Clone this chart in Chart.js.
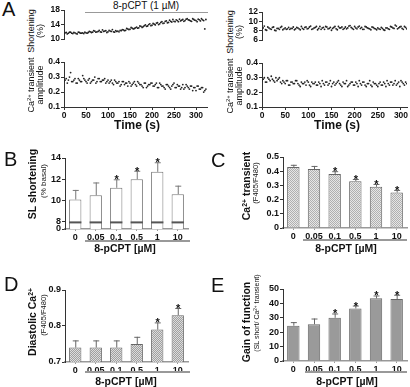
<!DOCTYPE html>
<html>
<head>
<meta charset="utf-8">
<script src="https://cdn.jsdelivr.net/npm/chart.js@4.4.1/dist/chart.umd.min.js"></script>
<style>
body { margin: 0; background: #fff; width: 410px; height: 387px; overflow: hidden; position: relative; font-family: "Liberation Sans", Arial, sans-serif; color: #111; }
canvas { position: absolute; }
.t { position: absolute; white-space: nowrap; line-height: 1; }
.letter { font-size: 20px; }
.rule { position: absolute; height: 1.5px; background: #999; }
sup { font-size: 65%; vertical-align: 0; position: relative; top: -0.45em; }
</style>
</head>
<body>
<script>
// Panel A traces: two interleaved samples, every 5 s, second one offset by 2.5 s
const timeStep = 5;
const shortLeft = [11.5, 11.8, 11.6, 11.9, 11.5, 11.7, 11.4, 11.8, 11.6, 11.5, 11.7,
    11.8, 12.0, 11.9, 12.2, 12.0, 12.4, 11.9, 12.1, 12.3, 12.0, 12.2, 12.6, 11.9, 12.1, 12.0,
    12.3, 12.5, 12.4, 12.8, 12.7, 13.0, 12.9, 13.3, 13.1, 13.5, 13.4, 13.9, 13.6, 14.2, 13.8,
    14.1, 14.4, 14.0, 14.6, 14.3, 14.9, 14.5, 15.2, 14.7, 14.9, 15.3, 14.8,
    15.0, 15.4, 15.1, 15.6, 15.2, 14.9, 15.4, 15.1, 15.5, 15.0, 15.3, 12.8];
const shortLeft2 = [11.7, 11.4, 11.9, 11.6, 11.8, 11.5, 11.9, 11.6, 11.7, 11.9, 11.6,
    12.1, 11.8, 12.3, 11.9, 12.1, 12.0, 12.5, 12.2, 11.8, 12.4, 12.1, 12.0, 12.3, 12.2, 12.4,
    12.6, 12.3, 12.9, 12.6, 13.2, 12.8, 13.1, 13.0, 13.6, 13.2, 13.7, 13.5, 14.0, 13.7, 14.3,
    13.9, 14.5, 14.2, 14.8, 14.4, 15.0, 14.6, 14.9, 15.4, 14.8, 15.1, 15.5,
    15.2, 14.9, 15.5, 15.3, 15.0, 15.6, 15.2, 14.8, 15.3, 15.6, 15.1, 15.4];
const caLeft = [0.27, 0.29, 0.28, 0.33, 0.27, 0.29, 0.26, 0.28, 0.27, 0.29, 0.27, 0.28, 0.26, 0.28, 0.30, 0.27, 0.29, 0.27, 0.28, 0.26, 0.28,
    0.27, 0.26, 0.28, 0.26, 0.27, 0.25, 0.27, 0.26, 0.24, 0.26, 0.25, 0.27, 0.24, 0.26, 0.25, 0.23, 0.26, 0.24, 0.25, 0.26,
    0.24, 0.26, 0.23, 0.25, 0.24, 0.22, 0.25, 0.23, 0.24, 0.26, 0.23, 0.24, 0.22, 0.25, 0.23, 0.24, 0.22, 0.24, 0.23, 0.21, 0.24, 0.22, 0.23, 0.21];
const caLeft2 = [0.28, 0.26, 0.30, 0.27, 0.28, 0.26, 0.29, 0.27, 0.31, 0.28, 0.26, 0.29, 0.27, 0.28, 0.26, 0.29, 0.27, 0.28, 0.29, 0.27, 0.26,
    0.28, 0.25, 0.27, 0.26, 0.24, 0.27, 0.25, 0.26, 0.27, 0.24, 0.26, 0.25, 0.27, 0.25, 0.24, 0.26, 0.23, 0.25, 0.26, 0.24,
    0.25, 0.23, 0.26, 0.24, 0.23, 0.25, 0.24, 0.22, 0.25, 0.23, 0.25, 0.24, 0.23, 0.22, 0.25, 0.23, 0.24, 0.21, 0.23, 0.24, 0.22, 0.23, 0.20, 0.22];
const shortRight = [8.4, 9.0, 8.1, 8.6, 8.3, 8.8, 8.0, 8.5, 8.7, 8.2,
    8.6, 8.4, 8.3, 8.5, 8.2, 8.7, 8.4, 8.9, 8.3, 8.8,
    8.5, 9.0, 8.4, 8.7, 8.2, 8.9, 8.6, 8.3, 8.8, 8.5,
    8.1, 8.7, 8.4, 8.9, 8.6, 8.3, 8.8, 8.6, 9.1, 8.5,
    8.9, 8.4, 9.0, 8.7, 8.3, 8.8, 8.5, 8.2, 8.7, 8.4,
    8.6, 8.3, 8.5, 8.1, 8.6, 8.3, 8.8, 8.5, 9.0, 8.6,
    8.9, 8.3, 8.7];
const shortRight2 = [8.6, 8.2, 8.8, 8.4, 8.7, 8.1, 8.5, 8.3, 8.9, 8.4,
    8.3, 8.7, 8.5, 8.8, 8.4, 8.6, 8.2, 8.5, 8.7, 8.4,
    8.8, 8.3, 8.6, 8.9, 8.5, 8.3, 8.7, 8.9, 8.4, 8.7,
    8.5, 8.9, 8.2, 8.6, 8.8, 8.5, 8.4, 9.0, 8.7, 8.3,
    8.6, 8.8, 8.5, 8.3, 8.9, 8.6, 8.4, 8.8, 8.5, 8.2,
    8.4, 8.7, 8.2, 8.6, 8.4, 8.9, 8.6, 9.2, 8.4, 8.8,
    8.5, 8.9, 8.4];
const caRight = [0.28, 0.30, 0.27, 0.29, 0.31, 0.28, 0.30, 0.29, 0.27, 0.28,
    0.26, 0.28, 0.25, 0.27, 0.26, 0.28, 0.25, 0.27, 0.26, 0.25,
    0.27, 0.24, 0.26, 0.27, 0.25, 0.26, 0.28, 0.25, 0.27, 0.26,
    0.24, 0.27, 0.26, 0.28, 0.25, 0.27, 0.26, 0.24, 0.26, 0.27,
    0.25, 0.26, 0.28, 0.25, 0.27, 0.24, 0.26, 0.25, 0.27, 0.26,
    0.24, 0.27, 0.25, 0.26, 0.28, 0.25, 0.27, 0.26, 0.25, 0.27,
    0.28, 0.26, 0.27];
const caRight2 = [0.29, 0.27, 0.30, 0.28, 0.29, 0.27, 0.28, 0.30, 0.26, 0.27,
    0.28, 0.25, 0.27, 0.26, 0.28, 0.26, 0.24, 0.26, 0.27, 0.28,
    0.25, 0.27, 0.26, 0.25, 0.27, 0.24, 0.26, 0.27, 0.25, 0.28,
    0.26, 0.25, 0.27, 0.26, 0.24, 0.26, 0.28, 0.25, 0.27, 0.25,
    0.27, 0.24, 0.26, 0.27, 0.25, 0.26, 0.28, 0.24, 0.26, 0.25,
    0.26, 0.25, 0.27, 0.24, 0.26, 0.27, 0.25, 0.28, 0.26, 0.24,
    0.27, 0.25, 0.26];

const timeTicks = [0, 50, 100, 150, 200, 250, 300];
const shortLeftTicks = [10, 14, 18];
const shortRightTicks = [6, 8, 10, 12];
const caTicks = [0.1, 0.2, 0.3, 0.4];

// Panels B-E: dose response
const doses = ['0', '0.05', '0.1', '0.5', '1', '10'];
const slShort = [10.1, 10.5, 11.2, 12.0, 12.7, 10.6];
const slShortSem = [0.9, 1.2, 0.8, 0.8, 0.9, 0.8];
const slShortSig = [false, false, true, true, true, false];
const caTrans = [0.43, 0.415, 0.38, 0.33, 0.29, 0.25];
const caTransSem = [0.015, 0.022, 0.02, 0.015, 0.02, 0.018];
const caTransSig = [false, false, true, true, true, true];
const diaCa = [0.74, 0.74, 0.74, 0.75, 0.79, 0.83];
const diaCaSem = [0.02, 0.02, 0.02, 0.02, 0.02, 0.02];
const diaCaSig = [false, false, false, false, true, true];
const gain = [24.5, 25.5, 30, 36.5, 43.5, 43];
const gainSem = [2.5, 4, 3, 2, 2, 3];
const gainSig = [false, false, true, true, true, true];

const bTicks = [7.33, 8, 10, 12, 14];
const cTicks = [0, 0.1, 0.2, 0.3, 0.4, 0.5];
const dTicks = [0.7, 0.8, 0.9];
const eTicks = [0, 10, 20, 30, 40, 50];

const FONT = '"Liberation Sans", Arial, sans-serif';
Chart.defaults.font.family = FONT;
Chart.defaults.color = '#111';
Chart.defaults.animation = false;

function addText(html, x, y, css, rotate) {
    const d = document.createElement('div');
    d.className = 't';
    d.innerHTML = html;
    d.style.cssText += css;
    d.style.left = x + 'px';
    d.style.top = y + 'px';
    d.style.transform = 'translate(-50%,-50%)' + (rotate ? ' rotate(-90deg)' : '');
    document.body.appendChild(d);
}
function addRule(x1, x2, y) {
    const d = document.createElement('div');
    d.className = 'rule';
    d.style.left = x1 + 'px';
    d.style.width = (x2 - x1) + 'px';
    d.style.top = y + 'px';
    document.body.appendChild(d);
}
function addLetter(ch, x, y) {
    const d = document.createElement('div');
    d.className = 't letter';
    d.textContent = ch;
    d.style.left = x + 'px';
    d.style.top = y + 'px';
    document.body.appendChild(d);
}

// canvas so that the plot area lands on l,t,r,b
function makeCanvas(l, t, r, b, yw, padT, padR, xh) {
    const c = document.createElement('canvas');
    const w = r - l + yw + padR, h = b - t + padT + xh;
    c.width = w; c.height = h;
    c.style.left = (l - yw) + 'px';
    c.style.top = (t - padT) + 'px';
    c.style.width = w + 'px'; c.style.height = h + 'px';
    document.body.appendChild(c);
    return c;
}

function scatterChart(values, values2, box, yMin, yMax, yTicks, xMax, showX) {
    const c = makeCanvas(box[0], box[1], box[2], box[3], 22, 6, 3, showX ? 13 : 2);
    const pts = values.map((v, i) => ({ x: i * timeStep, y: v }));
    const pts2 = values2.map((v, i) => ({ x: i * timeStep + timeStep / 2, y: v }));
    const dot = { pointRadius: 0.9, pointBackgroundColor: '#222', pointBorderWidth: 0 };
    new Chart(c, {
        type: 'scatter',
        data: { datasets: [Object.assign({ data: pts }, dot), Object.assign({ data: pts2 }, dot)] },
        options: {
            responsive: false,
            events: [],
            layout: { padding: { top: 6, right: 3, bottom: showX ? 0 : 2 } },
            plugins: { legend: { display: false }, tooltip: { enabled: false } },
            scales: {
                x: {
                    type: 'linear', min: 0, max: xMax, display: showX,
                    afterBuildTicks: s => { s.ticks = timeTicks.map(v => ({ value: v })); },
                    afterFit: s => { s.height = 13; },
                    ticks: { autoSkip: false, maxRotation: 0, padding: 1, font: { size: 8.5, weight: 'bold' } },
                    grid: { drawOnChartArea: false, tickLength: 3, color: '#333' },
                    border: { color: '#333' }
                },
                y: {
                    min: yMin, max: yMax,
                    afterBuildTicks: s => { s.ticks = yTicks.map(v => ({ value: v })); },
                    afterFit: s => { s.width = 22; },
                    ticks: { autoSkip: false, padding: 1, font: { size: 8.5, weight: 'bold' } },
                    grid: { drawOnChartArea: false, tickLength: 3, color: '#333' },
                    border: { color: '#333' }
                }
            }
        }
    });
}

function hatch(light, dark) {
    const p = document.createElement('canvas');
    p.width = 2; p.height = 2;
    const g = p.getContext('2d');
    g.fillStyle = light; g.fillRect(0, 0, 2, 2);
    g.fillStyle = dark; g.fillRect(0, 0, 1, 1); g.fillRect(1, 1, 1, 1);
    return g.createPattern(p, 'repeat');
}

const barDecor = {
    id: 'barDecor',
    afterDatasetsDraw(chart) {
        const ds = chart.data.datasets[0];
        const meta = chart.getDatasetMeta(0);
        const ys = chart.scales.y;
        const ctx = chart.ctx;
        ctx.save();
        meta.data.forEach((bar, i) => {
            if (ds.breakAt !== undefined) {
                const yb = ys.getPixelForValue(ds.breakAt);
                ctx.fillStyle = '#555';
                ctx.fillRect(bar.x - bar.width / 2, yb - 1, bar.width, 2);
            }
            const yTop = ys.getPixelForValue(ds.means[i] + ds.sem[i]);
            ctx.strokeStyle = ds.borderColor;
            ctx.lineWidth = 1;
            ctx.beginPath();
            ctx.moveTo(bar.x + 0.5, bar.y);
            ctx.lineTo(bar.x + 0.5, yTop);
            ctx.moveTo(bar.x - 2.5, yTop + 0.5);
            ctx.lineTo(bar.x + 3.5, yTop + 0.5);
            ctx.stroke();
            if (ds.sig[i]) {
                ctx.fillStyle = '#111';
                ctx.font = 'bold 11px ' + FONT;
                ctx.textAlign = 'center';
                ctx.textBaseline = 'alphabetic';
                ctx.fillText('*', bar.x + 0.5, yTop + 4);
            }
        });
        ctx.restore();
    }
};

function barChart(box, means, sem, sig, yMin, yMax, tickVals, fill, stroke, labelFn, breakAt) {
    const c = makeCanvas(box[0], box[1], box[2], box[3], 22, 12, 2, 13);
    new Chart(c, {
        type: 'bar',
        data: {
            labels: doses,
            datasets: [{
                data: means, means: means, sem: sem, sig: sig, breakAt: breakAt,
                backgroundColor: fill, borderColor: stroke, borderWidth: 1,
                barPercentage: 0.6, categoryPercentage: 1
            }]
        },
        options: {
            responsive: false,
            events: [],
            layout: { padding: { top: 12, right: 2 } },
            plugins: { legend: { display: false }, tooltip: { enabled: false } },
            scales: {
                x: {
                    afterFit: s => { s.height = 13; },
                    ticks: { autoSkip: false, maxRotation: 0, padding: 1, font: { size: 9, weight: 'bold' } },
                    grid: { drawOnChartArea: false, offset: false, tickLength: 2, color: '#999' },
                    border: { color: '#999', width: 1.5 }
                },
                y: {
                    min: yMin, max: yMax,
                    afterBuildTicks: s => { s.ticks = tickVals.map(v => ({ value: v })); },
                    afterFit: s => { s.width = 22; },
                    ticks: { autoSkip: false, padding: 1, font: { size: 9, weight: 'bold' }, callback: labelFn },
                    grid: { drawOnChartArea: false, tickLength: 3, color: '#333' },
                    border: { color: '#333' }
                }
            }
        },
        plugins: [barDecor]
    });
}

// ---- Panel A ----
addLetter('A', 2, -1);
addText('8-pCPT (1 µM)', 146, 6, 'font-size:10px;');
addRule(85, 208, 11.5);
scatterChart(shortLeft, shortLeft2, [64, 10, 208, 52], 10, 18, shortLeftTicks, 325, false);
scatterChart(caLeft, caLeft2, [64, 62, 208, 107], 0.1, 0.4, caTicks, 325, true);
scatterChart(shortRight, shortRight2, [262, 12, 408, 53], 6, 12, shortRightTicks, 313, false);
scatterChart(caRight, caRight2, [262, 63, 408, 107], 0.1, 0.4, caTicks, 313, true);
addText('Shortening', 31, 31, 'font-size:9px;', true);
addText('(%)', 40, 31, 'font-size:9px;', true);
addText('Ca<sup>2+</sup> transient', 31, 85, 'font-size:9px;', true);
addText('amplitude', 40, 85, 'font-size:9px;', true);
addText('Shortening', 230, 32, 'font-size:9px;', true);
addText('(%)', 239, 32, 'font-size:9px;', true);
addText('Ca<sup>2+</sup> transient', 230, 86, 'font-size:9px;', true);
addText('amplitude', 239, 86, 'font-size:9px;', true);
addText('Time (s)', 137, 125, 'font-size:12px;font-weight:bold;');
addText('Time (s)', 337, 125, 'font-size:12px;font-weight:bold;');

// ---- Panels B-E ----
barChart([65, 158, 188, 229], slShort, slShortSem, slShortSig, 7.33, 14, bTicks,
    '#fff', '#777', v => (v < 8 ? '0' : v), 7.95);
barChart([283, 157, 407, 228], caTrans, caTransSem, caTransSig, 0, 0.5, cTicks,
    hatch('#e6e6e6', '#b0b0b0'), '#666', v => v);
barChart([65, 290, 188, 362], diaCa, diaCaSem, diaCaSig, 0.7, 0.9, dTicks,
    hatch('#dcdcdc', '#a0a0a0'), '#666', v => v);
barChart([283, 289, 407, 361], gain, gainSem, gainSig, 0, 50, eTicks,
    '#9a9a9a', '#666', v => v);

addLetter('B', 4, 149);
addLetter('C', 211, 150);
addLetter('D', 4, 274);
addLetter('E', 211, 275);

addText('SL shortening', 32, 184, 'font-size:10.5px;font-weight:bold;', true);
addText('(% basal)', 44, 181, 'font-size:8px;', true);
addText('Ca<sup>2+</sup> transient', 246, 186, 'font-size:10.5px;font-weight:bold;', true);
addText('(F405/F480)', 256, 183, 'font-size:7.5px;', true);
addText('Diastolic Ca<sup>2+</sup>', 32, 322, 'font-size:10.5px;font-weight:bold;', true);
addText('(F405/F480)', 44, 315, 'font-size:7.5px;', true);
addText('Gain of function', 246, 322, 'font-size:10.5px;font-weight:bold;', true);
addText('(SL short/ Ca<sup>2+</sup> transient)', 257, 313, 'font-size:7px;', true);

addRule(85, 190, 240);
addRule(303, 407, 239);
addRule(85, 190, 371);
addRule(305, 407, 371);
addText('8-pCPT [µM]', 125, 248, 'font-size:10.5px;font-weight:bold;');
addText('8-pCPT [µM]', 346, 248, 'font-size:10.5px;font-weight:bold;');
addText('8-pCPT [µM]', 126, 381, 'font-size:10.5px;font-weight:bold;');
addText('8-pCPT [µM]', 347, 381, 'font-size:10.5px;font-weight:bold;');
</script>
</body>
</html>
